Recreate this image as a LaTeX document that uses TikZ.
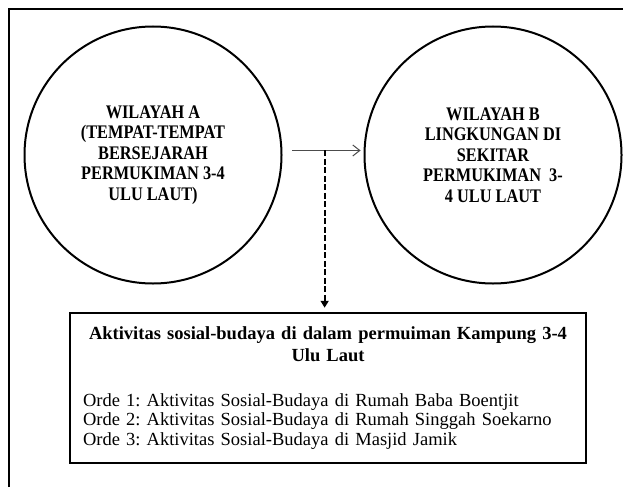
\documentclass[tikz,border=0pt]{standalone}
\usepackage{fontspec}
\setmainfont{Liberation Serif}
\newfontfamily\sempit[FakeStretch = 0.85]{Liberation Serif}
\usetikzlibrary{arrows.meta}

\tikzset{
    wilayah/.style = {draw,
        circle,
        line width = 2pt,
        minimum size = 257pt,
        align = center,
        font = \sempit\bfseries\fontsize{19.2}{20.5}\selectfont
    },
    kotak/.style = {draw,
        rectangle,
        line width = 2.5pt,
        minimum width = 516pt,
        minimum height = 150pt,
        inner xsep = 13pt,
        text width = 490pt,
        align = left,
        font = \frenchspacing\fontsize{18.5}{19.5}\selectfont
    },
    bingkai/.style = {line width = 2.5pt}
}

\begin{document}
\begin{tikzpicture}[x = 1pt, y = -1pt]
    \useasboundingbox (0,0) rectangle (623,487);
    \draw[bingkai] (9,487) -- (9,9) -- (623,9);
    \draw (153,155) node(A) [wilayah]
    {WILAYAH A \\ (TEMPAT-TEMPAT \\ BERSEJARAH \\ PERMUKIMAN 3-4 \\ ULU LAUT)};
    \draw (493,155) node(B) [wilayah]
    {WILAYAH B \\ LINGKUNGAN DI \\ SEKITAR \\ PERMUKIMAN~~3- \\ 4 ULU LAUT};
    \draw (328,388) node(K) [kotak]
    {{\bfseries\fontsize{18.5}{22}\selectfont\centering
        Aktivitas sosial-budaya di dalam permuiman Kampung 3-4\\
        Ulu Laut\par}
    \vspace{25.5pt}
    Orde 1: Aktivitas Sosial-Budaya di Rumah Baba Boentjit\\
    Orde 2: Aktivitas Sosial-Budaya di Rumah Singgah Soekarno\\
    Orde 3: Aktivitas Sosial-Budaya di Masjid Jamik};
    \draw [line width = 1pt, black!70, -{Straight Barb[length=7pt, width=11pt]},
        shorten <= 10pt, shorten >= 3pt] (A.2) -- (B.178)
        coordinate [pos = 0.52] (M);
    \draw [line width = 1.8pt, dash pattern = on 6pt off 2.5pt,
        -{Triangle[length=7pt, width=8pt]}, shorten >= 4pt]
        (M) -- (M |- K.north);
\end{tikzpicture}
\end{document}
